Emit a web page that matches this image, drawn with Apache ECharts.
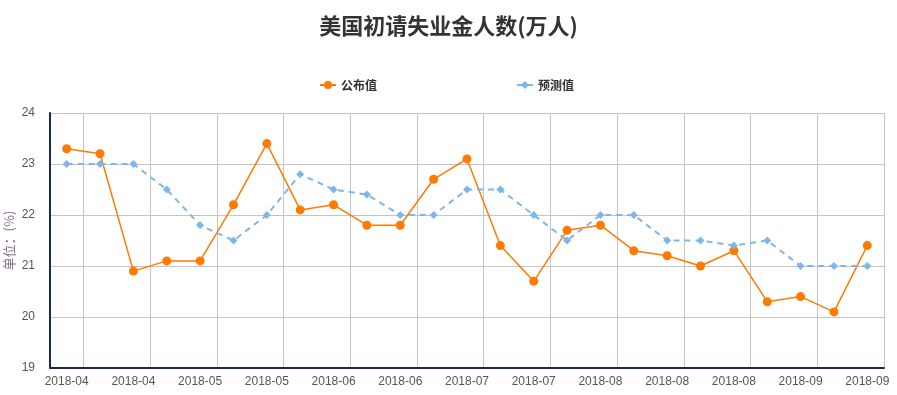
<!DOCTYPE html>
<html>
<head>
<meta charset="utf-8">
<script src="https://cdn.jsdelivr.net/npm/echarts@6/dist/echarts.min.js"></script>
<style>
html,body{margin:0;padding:0;background:#fff;}
#main{width:897px;height:395px;}
</style>
</head>
<body>
<div id="main"></div>
<script>
var titleText = '美国初请失业金人数(万人)';
var seriesNames = ['公布值', '预测值'];
var categories = [
  '2018-04','2018-04','2018-04','2018-05','2018-05','2018-05','2018-05',
  '2018-06','2018-06','2018-06','2018-06','2018-07','2018-07','2018-07',
  '2018-07','2018-08','2018-08','2018-08','2018-08','2018-08','2018-08',
  '2018-09','2018-09','2018-09','2018-09'
];
var actualValues = [23.3, 23.2, 20.9, 21.1, 21.1, 22.2, 23.4, 22.1, 22.2, 21.8, 21.8, 22.7, 23.1,
  21.4, 20.7, 21.7, 21.8, 21.3, 21.2, 21.0, 21.3, 20.3, 20.4, 20.1, 21.4];
var forecastValues = [23, 23, 23, 22.5, 21.8, 21.5, 22, 22.8, 22.5, 22.4, 22, 22, 22.5,
  22.5, 22, 21.5, 22, 22, 21.5, 21.5, 21.4, 21.5, 21, 21, 21];
var yAxisName = '单位：(%)';

var chart = echarts.init(document.getElementById('main'));
var oddOnly = function (index) { return index % 2 === 1; };
chart.setOption({
  animation: false,
  title: {
    text: titleText,
    left: 'center',
    top: 10,
    textStyle: { fontSize: 22, fontWeight: 'bold', color: '#333', fontFamily: 'Noto Sans CJK SC' }
  },
  legend: {
    top: 74,
    left: 314,
    itemGap: 139,
    itemWidth: 16,
    itemHeight: 10,
    textStyle: { fontSize: 12, fontWeight: 'bold', color: '#333', fontFamily: 'Noto Sans CJK SC' },
    data: seriesNames
  },
  grid: { left: 50, right: 13, top: 113, bottom: 27, containLabel: false, outerBoundsMode: 'none' },
  xAxis: {
    type: 'category',
    boundaryGap: true,
    data: categories,
    axisLine: { lineStyle: { color: '#1c2951', width: 2 } },
    axisTick: { interval: oddOnly, lineStyle: { color: '#b7c4d9' }, length: 5 },
    axisLabel: { interval: 1, color: '#555', fontSize: 12, margin: 8 },
    splitLine: { show: true, interval: oddOnly, lineStyle: { color: '#c4c4c4' } }
  },
  yAxis: {
    type: 'value',
    min: 19,
    max: 24,
    interval: 1,
    name: yAxisName,
    nameLocation: 'middle',
    nameGap: 34,
    nameMoveOverlap: false,
    nameTextStyle: { color: '#8d6a8c', fontSize: 13, fontFamily: 'Noto Sans CJK SC' },
    axisLine: { show: true, lineStyle: { color: '#1c2951', width: 2 } },
    axisTick: { show: false },
    axisLabel: { color: '#555', fontSize: 12, margin: 15 },
    splitLine: { lineStyle: { color: '#c4c4c4' } }
  },
  series: [
    {
      name: seriesNames[0],
      type: 'line',
      data: actualValues,
      symbol: 'circle',
      symbolSize: 9,
      itemStyle: { color: '#ff7a00' },
      lineStyle: { color: '#ff7a00', width: 1.5 }
    },
    {
      name: seriesNames[1],
      type: 'line',
      data: forecastValues,
      symbol: 'diamond',
      symbolSize: 8,
      itemStyle: { color: '#7fb6ea' },
      lineStyle: { color: '#7fb6ea', width: 2, type: [6, 5] }
    }
  ]
});
</script>
</body>
</html>
